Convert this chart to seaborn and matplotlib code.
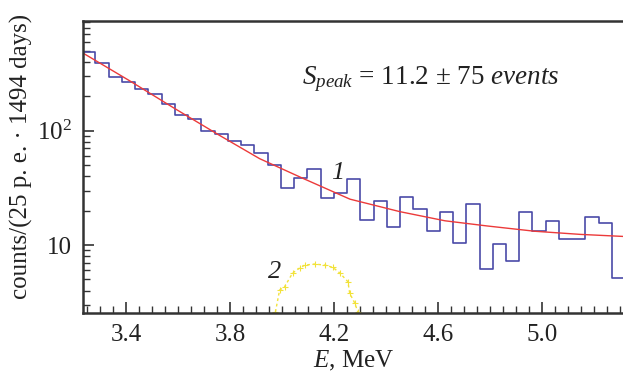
import numpy as np
import pandas as pd
import matplotlib
matplotlib.use("Agg")
import matplotlib.pyplot as plt
from matplotlib.ticker import MultipleLocator, FixedLocator, FixedFormatter, LogLocator, NullFormatter
import seaborn as sns

# histogram 1: counts per bin (25 p.e. bins)
bin_start = 3.2307
bin_width = 0.051
counts = [485, 389, 295, 268, 232, 210, 170, 137, 126, 100,
          93, 82, 74.5, 63.8, 50.1, 31.7, 38.3, 46, 25.6, 28.7,
          37.8, 16.4, 24.4, 14.4, 26.5, 20.5, 13.3, 19.5, 10.5, 22.7,
          6.2, 10.3, 7.3, 19.5, 13.3, 16.3, 11.2, 11.2, 17.5, 15.5,
          5.2]

# fit curve (red)
fit_e = [3.236, 3.413, 3.586, 3.760, 3.914, 4.080, 4.262, 4.454, 4.628,
         4.789, 4.974, 5.148, 5.313]
fit_val = [475, 274, 157, 91, 57, 38.4, 25.2, 19.6, 16.3, 14.7, 13.2, 12.4, 11.9]

# peak 2 (yellow)
peak_e = [3.975, 3.991, 4.010, 4.041, 4.068, 4.088, 4.126, 4.165, 4.196,
          4.223, 4.254, 4.261, 4.281, 4.292]
peak_val = [2.6, 4.04, 4.31, 5.69, 6.29, 6.68, 6.82, 6.68, 6.38,
            5.69, 4.78, 3.78, 3.09, 2.6]

x_ticks = [3.4, 3.8, 4.2, 4.6, 5.0]

sns.set_style("ticks")
plt.rcParams["font.family"] = ["Liberation Serif", "DejaVu Serif"]
plt.rcParams["mathtext.fontset"] = "custom"
plt.rcParams["mathtext.rm"] = "Liberation Serif"
plt.rcParams["mathtext.it"] = "Liberation Serif:italic"

fig = plt.figure(figsize=(6.23, 3.78), dpi=100)
ax = fig.add_axes([83 / 623, 1 - 312.7 / 378, 1 - 83 / 623 + 0.002, (312.7 - 21) / 378])

n_bins = len(counts)
bin_end = bin_start + bin_width * n_bins
centers = bin_start + bin_width * (np.arange(n_bins) + 0.5)
hist_df = pd.DataFrame({"E": centers, "n": np.asarray(counts, dtype=float)})
sns.histplot(data=hist_df, x="E", weights="n", bins=n_bins, binrange=(bin_start, bin_end),
             element="step", fill=False, color="#4a4aa8", linewidth=1.2, ax=ax)
sns.lineplot(x=fit_e, y=fit_val, color="#ec3a3a", linewidth=1.0, ax=ax)
ax.plot(peak_e, peak_val, color="#f2e23a", linestyle=(0, (2, 2)), linewidth=1.0,
        marker="+", markersize=5, markeredgewidth=0.8)

ax.set_yscale("log")
ax.set_xlim(3.234, 5.318)
ax.set_ylim(2.56, 912)

ax.xaxis.set_major_locator(FixedLocator(x_ticks))
ax.xaxis.set_major_formatter(FixedFormatter([f"{v:.1f}" for v in x_ticks]))
ax.xaxis.set_minor_locator(MultipleLocator(0.05))
ax.yaxis.set_major_locator(FixedLocator([10, 100]))
ax.yaxis.set_major_formatter(FixedFormatter(["10", r"$10^2$"]))
ax.yaxis.set_minor_locator(LogLocator(base=10, subs=np.arange(2, 10)))
ax.yaxis.set_minor_formatter(NullFormatter())

ax.tick_params(which="major", direction="in", length=8, width=1.2, colors="#333333",
               labelsize=18, labelcolor="#222222", pad=8)
ax.tick_params(which="minor", direction="in", length=5, width=1.0, colors="#333333")

for side in ["left", "bottom", "top"]:
    ax.spines[side].set_linewidth(1.8)
    ax.spines[side].set_color("#333333")
ax.spines["right"].set_visible(False)

ax.set_xlabel(r"$E$, MeV", fontsize=18, color="#222222", labelpad=2)
ax.set_ylabel("counts/(25 p. e. · 1494 days)", fontsize=18, color="#222222")
ax.yaxis.set_label_coords(-0.093, 0.534)

ax.text(0.643, 0.80, r"$S_{peak}$ = 11.2 ± 75 $events$", transform=ax.transAxes,
        ha="center", va="center", fontsize=19.5, color="#222222")
ax.text(4.215, 42.7, "1", ha="center", va="center", fontsize=19, fontstyle="italic",
        color="#222222")
ax.text(3.97, 5.83, "2", ha="center", va="center", fontsize=19, fontstyle="italic",
        color="#222222")

fig.savefig("out.png", dpi=100)
